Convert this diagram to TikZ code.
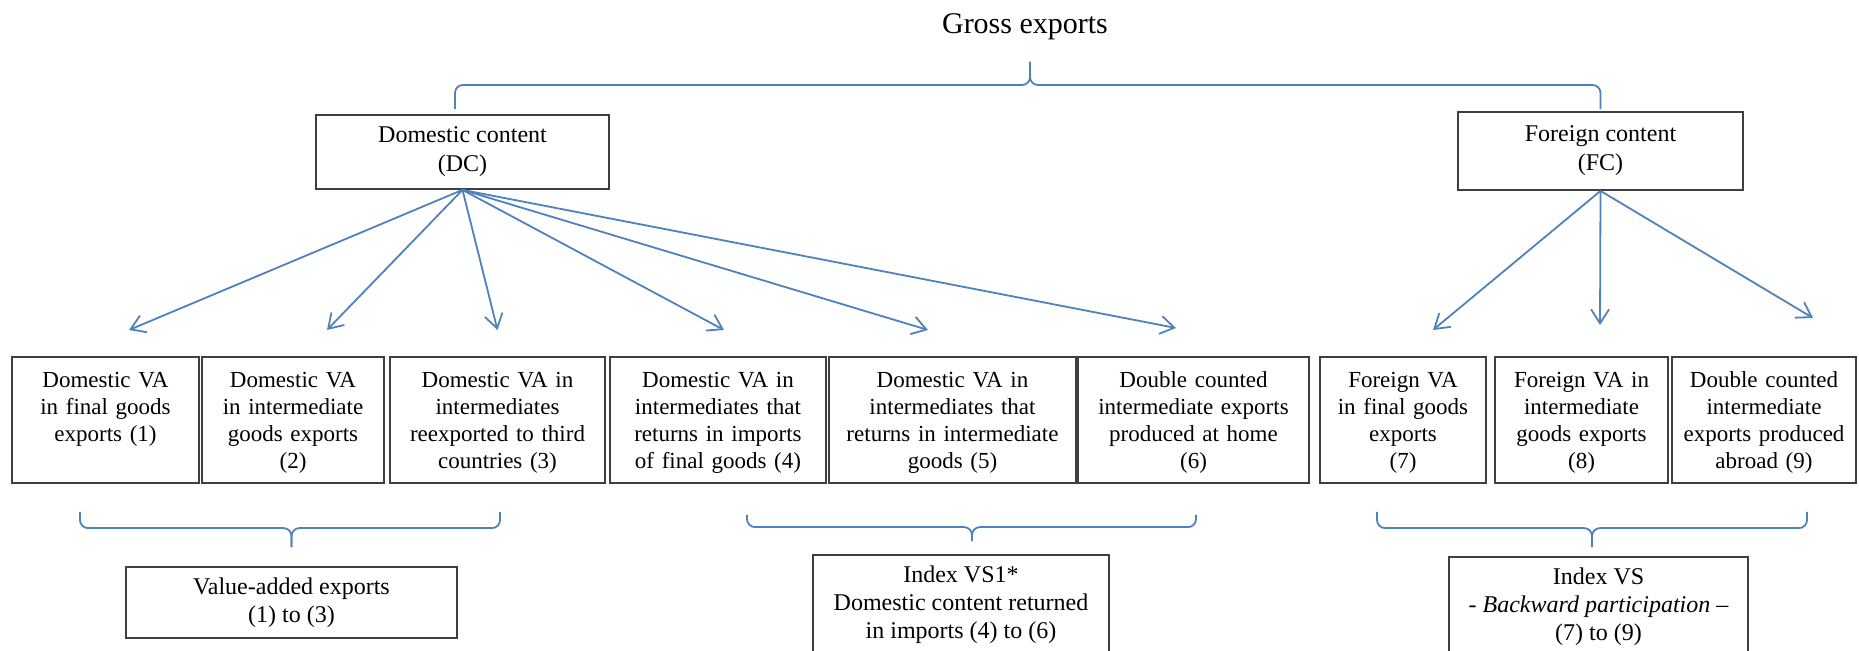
\documentclass[tikz,border=0pt]{standalone}
\usepackage{fontspec}
\setmainfont{Liberation Serif}
\definecolor{LinkBlue}{HTML}{4F81BD}
\definecolor{FrameGray}{HTML}{3F3F3F}
\usetikzlibrary{arrows.meta,positioning}
\tikzset{
  head/.style={draw=FrameGray, line width=0.9pt, align=center, inner sep=0pt, font=\fontsize{12}{14.5}\selectfont},
  cell/.style={draw=FrameGray, line width=0.9pt, align=center, text width=#1, inner xsep=0pt, inner ysep=2pt, outer sep=0pt, text height=13.5pt, text depth=45.5pt, font=\fontsize{11.5}{13.5}\selectfont},
  summary/.style={draw=FrameGray, line width=0.9pt, align=center, inner sep=0pt, font=\fontsize{12}{14}\selectfont},
  arrow/.style={-{Straight Barb[length=7pt,width=9pt]}, line width=0.9pt, LinkBlue},
  brace/.style={line width=0.9pt, LinkBlue, rounded corners=4pt}
}

\begin{document}
\begin{tikzpicture}[x=0.5pt, y=-0.5pt]
    \useasboundingbox (0,0) rectangle (1859,651);
    \clip (0,0) rectangle (1859,651);

    \node[font=\fontsize{15}{18}\selectfont] (gross) at (1025,27) {Gross exports};
    \coordinate (grosstip) at (1030,62);
    \node[head, minimum width=146.5pt, minimum height=37pt] (dc) at (462.5,152) {Domestic content\\(DC)};
    \node[head, minimum width=142.5pt, minimum height=39pt] (fc) at (1600.5,151) {Foreign content\\(FC)};

    \node[cell=93.5pt, anchor=north west] (b1) at (12,357) {Domestic VA\\in final goods\\exports (1)};
    \node[cell=91pt, right=1.5pt of b1] (b2) {Domestic VA\\in intermediate\\goods exports\\(2)};
    \node[cell=107.5pt, right=3pt of b2] (b3) {Domestic VA in\\intermediates\\reexported to third\\countries (3)};
    \node[cell=108pt, right=2.5pt of b3] (b4) {Domestic VA in\\intermediates that\\returns in imports\\of final goods (4)};
    \node[cell=123.5pt, right=1.5pt of b4] (b5) {Domestic VA in\\intermediates that\\returns in intermediate\\goods (5)};
    \node[cell=115.5pt, right=1pt of b5] (b6) {Double counted\\intermediate exports\\produced at home\\(6)};
    \node[cell=83pt, right=5.5pt of b6] (b7) {Foreign VA\\in final goods\\exports\\(7)};
    \node[cell=86.5pt, right=4.5pt of b7] (b8) {Foreign VA in\\intermediate\\goods exports\\(8)};
    \node[cell=92pt, right=2pt of b8] (b9) {Double counted\\intermediate\\exports produced\\abroad (9)};

    \node[summary, minimum width=165.5pt, minimum height=35.5pt] (va) at (291.5,602.5) {Value-added exports\\(1) to (3)};
    \node[summary, minimum width=148pt, minimum height=50pt] (vsone) at (961,605) {Index VS1*\\Domestic content returned\\in imports (4) to (6)};
    \node[summary, minimum width=149.5pt, minimum height=50pt] (vs) at (1598.5,607) {Index VS\\- \textit{Backward participation} --\\(7) to (9)};

    % top brace
    \draw[brace] ([xshift=-3.75pt,yshift=2.5pt]dc.north) |- ([yshift=-11.5pt]grosstip) -- (grosstip);
    \draw[brace] ([yshift=1pt]fc.north) |- ([yshift=-11.5pt]grosstip) -- (grosstip);

    \draw[arrow] (dc.south) -- ([xshift=11.75pt,yshift=13.5pt]b1.north);
    \draw[arrow] (dc.south) -- ([xshift=17pt,yshift=13.5pt]b2.north);
    \draw[arrow] (dc.south) -- ([yshift=13.5pt]b3.north);
    \draw[arrow] (dc.south) -- ([xshift=3pt,yshift=13.5pt]b4.north);
    \draw[arrow] (dc.south) -- ([xshift=-12.25pt,yshift=13.5pt]b5.north);
    \draw[arrow] (dc.south) -- ([xshift=-8.75pt,yshift=14.5pt]b6.north);
    \draw[arrow] (fc.south) -- ([xshift=15pt,yshift=13.5pt]b7.north);
    \draw[arrow] (fc.south) -- ([xshift=9.25pt,yshift=16pt]b8.north);
    \draw[arrow] (fc.south) -- ([xshift=24.5pt,yshift=19.5pt]b9.north);

    % lower braces
    \draw[brace] ([xshift=-12.75pt,yshift=-14.5pt]b1.south) |- ([yshift=19pt]va.north) -- ([yshift=9.5pt]va.north);
    \draw[brace] ([xshift=1.25pt,yshift=-14.5pt]b3.south) |- ([yshift=19pt]va.north) -- ([yshift=9.5pt]va.north);
    \draw[brace] ([xshift=14.5pt,yshift=-16pt]b4.south) |- ([xshift=5.5pt,yshift=13.5pt]vsone.north) -- ([xshift=5.5pt,yshift=6.5pt]vsone.north);
    \draw[brace] ([xshift=1.25pt,yshift=-16pt]b6.south) |- ([xshift=5.5pt,yshift=13.5pt]vsone.north) -- ([xshift=5.5pt,yshift=6.5pt]vsone.north);
    \draw[brace] ([xshift=-13pt,yshift=-14.5pt]b7.south) |- ([xshift=-3.25pt,yshift=14pt]vs.north) -- ([xshift=-3.25pt,yshift=4.5pt]vs.north);
    \draw[brace] ([xshift=21.5pt,yshift=-14.5pt]b9.south) |- ([xshift=-3.25pt,yshift=14pt]vs.north) -- ([xshift=-3.25pt,yshift=4.5pt]vs.north);
  \end{tikzpicture}
\end{document}
